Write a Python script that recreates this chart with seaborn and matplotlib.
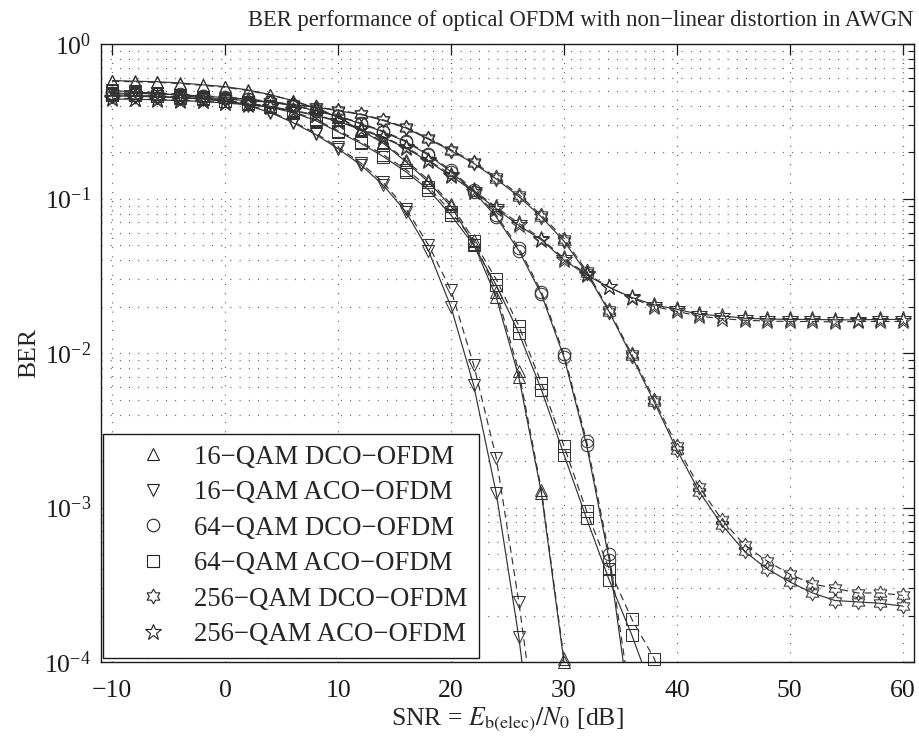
import matplotlib
matplotlib.use("Agg")
import matplotlib.pyplot as plt
import seaborn as sns
import pandas as pd
from matplotlib.path import Path
from matplotlib.lines import Line2D
from matplotlib.ticker import LogLocator, NullFormatter, FixedLocator

# ---------------- data ----------------
snr = [-10, -8, -6, -4, -2, 0, 2, 4, 6, 8, 10, 12, 14, 16, 18, 20, 22, 24, 26, 28,
       30, 32, 34, 36, 38, 40, 42, 44, 46, 48, 50, 52, 54, 56, 58, 60]

q16_dco_solid = [0.58, 0.575, 0.57, 0.56, 0.545, 0.53, 0.505, 0.47, 0.43, 0.385, 0.335, 0.277,
                 0.228, 0.173, 0.128, 0.089, 0.051, 0.023, 0.0070, 0.00124, 0.0001, 2e-6]
q16_dco_dash = [0.575, 0.57, 0.565, 0.555, 0.54, 0.525, 0.50, 0.468, 0.43, 0.387, 0.338, 0.28,
                0.232, 0.177, 0.132, 0.092, 0.054, 0.025, 0.0076, 0.0013, 0.000105, 3e-6]

q16_aco_solid = [0.50, 0.49, 0.48, 0.465, 0.45, 0.43, 0.40, 0.36, 0.31, 0.26, 0.21, 0.165,
                 0.122, 0.082, 0.046, 0.0198, 0.0062, 0.00124, 0.000145, 1e-5]
q16_aco_dash = [0.505, 0.495, 0.485, 0.47, 0.455, 0.435, 0.405, 0.365, 0.315, 0.265, 0.215, 0.17,
                0.127, 0.086, 0.050, 0.0255, 0.0084, 0.0021, 0.000245, 2e-5]

q64_dco_solid = [0.48, 0.48, 0.475, 0.47, 0.46, 0.45, 0.44, 0.42, 0.40, 0.37, 0.34, 0.305,
                 0.27, 0.233, 0.191, 0.149, 0.111, 0.076, 0.046, 0.0240, 0.0094, 0.00254,
                 0.00046, 4e-5]
q64_dco_dash = [0.485, 0.482, 0.478, 0.472, 0.463, 0.453, 0.443, 0.423, 0.403, 0.373, 0.343, 0.308,
                0.273, 0.236, 0.194, 0.152, 0.114, 0.078, 0.048, 0.0250, 0.0098, 0.0027,
                0.00050, 5e-5]

q64_aco_solid = [0.47, 0.465, 0.46, 0.45, 0.44, 0.425, 0.41, 0.39, 0.36, 0.32, 0.27, 0.228,
                 0.187, 0.149, 0.114, 0.078, 0.050, 0.0275, 0.0135, 0.0058, 0.0022, 0.00085,
                 0.00034, 0.00015, 6e-5]
q64_aco_dash = [0.475, 0.47, 0.463, 0.455, 0.445, 0.43, 0.415, 0.395, 0.365, 0.325, 0.275, 0.233,
                0.192, 0.154, 0.119, 0.082, 0.053, 0.030, 0.0150, 0.0064, 0.0025, 0.00095,
                0.00040, 0.00019, 0.000105, 4e-5]

q256_dco_solid = [0.46, 0.46, 0.455, 0.45, 0.445, 0.44, 0.43, 0.42, 0.405, 0.39, 0.37, 0.35,
                  0.32, 0.286, 0.242, 0.204, 0.169, 0.134, 0.103, 0.076, 0.053, 0.033, 0.0185,
                  0.0095, 0.0048, 0.00236, 0.00126, 0.00077, 0.00052, 0.00040, 0.00033, 0.00028,
                  0.00025, 0.000245, 0.00024, 0.00023]
q256_dco_dash = [0.465, 0.462, 0.458, 0.453, 0.448, 0.443, 0.433, 0.423, 0.408, 0.393, 0.373, 0.353,
                 0.323, 0.289, 0.245, 0.207, 0.172, 0.137, 0.106, 0.078, 0.055, 0.034, 0.019,
                 0.0098, 0.0050, 0.0025, 0.00135, 0.00083, 0.00057, 0.00045, 0.00037, 0.00032,
                 0.00030, 0.00028, 0.00028, 0.00027]

q256_aco_solid = [0.44, 0.44, 0.435, 0.43, 0.425, 0.415, 0.405, 0.39, 0.37, 0.345, 0.315, 0.28,
                  0.248, 0.212, 0.174, 0.140, 0.111, 0.086, 0.067, 0.054, 0.040, 0.032, 0.0266,
                  0.0229, 0.0205, 0.0192, 0.0178, 0.0174, 0.0168, 0.0166, 0.0165, 0.0165, 0.0164,
                  0.0164, 0.0165, 0.0165]
q256_aco_dash = [0.445, 0.443, 0.438, 0.433, 0.428, 0.418, 0.408, 0.393, 0.373, 0.348, 0.318, 0.283,
                 0.251, 0.215, 0.177, 0.143, 0.113, 0.088, 0.069, 0.055, 0.041, 0.0325, 0.0268,
                 0.0226, 0.0200, 0.0186, 0.0173, 0.0167, 0.0163, 0.0161, 0.0160, 0.0160, 0.0159,
                 0.0160, 0.0160, 0.0160]

labels = ["16\u2212QAM DCO\u2212OFDM", "16\u2212QAM ACO\u2212OFDM", "64\u2212QAM DCO\u2212OFDM",
          "64\u2212QAM ACO\u2212OFDM", "256\u2212QAM DCO\u2212OFDM", "256\u2212QAM ACO\u2212OFDM"]
solid_sets = [q16_dco_solid, q16_aco_solid, q64_dco_solid, q64_aco_solid, q256_dco_solid, q256_aco_solid]
dash_sets = [q16_dco_dash, q16_aco_dash, q64_dco_dash, q64_aco_dash, q256_dco_dash, q256_aco_dash]

x_ticks = [-10, 0, 10, 20, 30, 40, 50, 60]
y_ticks = [1e-4, 1e-3, 1e-2, 1e-1, 1e0]

# ---------------- style ----------------
sns.set_theme(style="white")
plt.rcParams["font.family"] = ["Liberation Serif", "DejaVu Serif"]
plt.rcParams["mathtext.fontset"] = "stix"
plt.rcParams["axes.unicode_minus"] = True

hexagram = Path.unit_regular_star(6, 0.57735)
markers = ["^", "v", "o", "s", hexagram, "*"]
msizes = [9, 9, 9, 8, 10.5, 12]
line_col = "#333333"

fig = plt.figure(figsize=(9.2, 7.44), dpi=100)
ax = fig.add_axes([0.1098, 0.1102, 0.8837, 0.8306])

for lab, sol, das, mk, ms in zip(labels, solid_sets, dash_sets, markers, msizes):
    for vals, ls in ((sol, "-"), (das, (0, (6, 4)))):
        df = pd.DataFrame({"snr": snr[:len(vals)], "ber": vals})
        sns.lineplot(data=df, x="snr", y="ber", ax=ax, color=line_col, lw=0.85,
                     linestyle=ls, sort=False, estimator=None, legend=False)
        dm = df[df["ber"] >= 0.99e-4]
        sns.lineplot(data=dm, x="snr", y="ber", ax=ax, color=line_col, lw=0,
                     marker=mk, markersize=ms, markerfacecolor="none",
                     markeredgecolor=line_col, markeredgewidth=0.75,
                     sort=False, estimator=None, legend=False, clip_on=False)

ax.set_yscale("log")
ax.set_xlim(-11, 61)
ax.set_ylim(1e-4, 1)
ax.xaxis.set_major_locator(FixedLocator(x_ticks))
ax.yaxis.set_major_locator(FixedLocator(y_ticks))
ax.yaxis.set_minor_locator(LogLocator(base=10, subs=[2, 3, 4, 5, 6, 7, 8, 9], numticks=20))
ax.yaxis.set_minor_formatter(NullFormatter())

grid_ls = (0, (0.8, 7))
ax.grid(True, which="major", axis="x", color="#4a4a4a", lw=0.85, linestyle=grid_ls)
ax.grid(True, which="both", axis="y", color="#4a4a4a", lw=0.85, linestyle=grid_ls)
ax.set_axisbelow(True)

ax.tick_params(which="both", direction="in", top=True, right=True, colors="k",
               labelsize=18.5)
ax.tick_params(axis="x", which="both", pad=13)
ax.tick_params(axis="y", which="both", pad=7)
ax.tick_params(which="major", length=8, width=0.9)
ax.tick_params(which="minor", length=4, width=0.8)
for s in ax.spines.values():
    s.set_color("k")
    s.set_linewidth(1.0)

ax.set_xlabel(r"SNR = $E_{\mathrm{b(elec)}}/N_0$ [dB]", fontsize=18.5, labelpad=3)
ax.set_ylabel("BER", fontsize=18.5, labelpad=3)
fig.text(0.993, 0.972, "BER performance of optical OFDM with non\u2212linear distortion in AWGN",
         ha="right", va="center", fontsize=16.3)

handles = [Line2D([], [], linestyle="none", marker=mk, markersize=ms,
                  markerfacecolor="none", markeredgecolor="#222222", markeredgewidth=0.8)
           for mk, ms in zip(markers, msizes)]
leg = ax.legend(handles, labels, loc="lower left", bbox_to_anchor=(0.002, 0.006),
                borderaxespad=0, fontsize=19.3, frameon=True, fancybox=False,
                edgecolor="k", framealpha=1, labelspacing=0.39, handlelength=2.9,
                handletextpad=0.1, borderpad=0.42)
leg.get_frame().set_linewidth(1.0)

fig.savefig("out.png", dpi=100)
